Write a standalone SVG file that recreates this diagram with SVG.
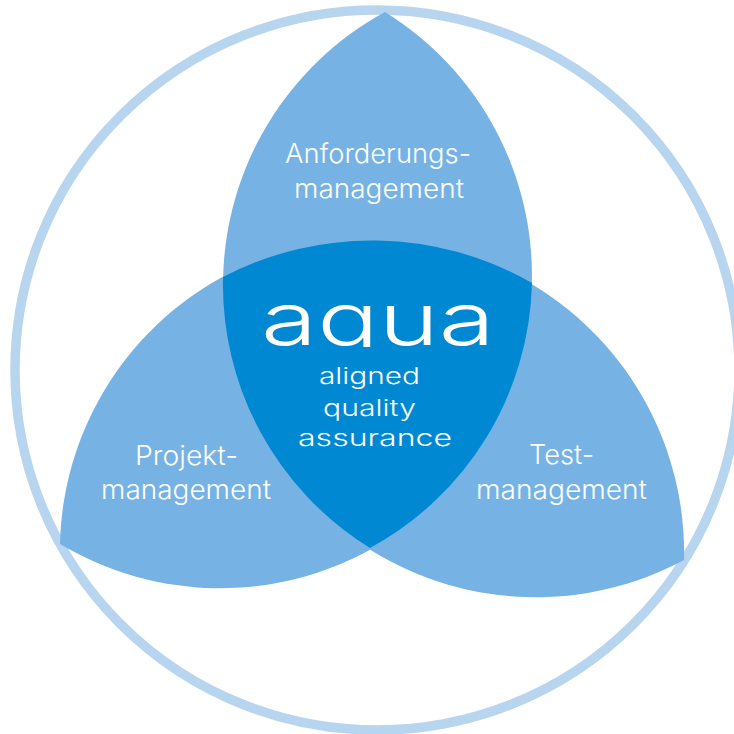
<svg xmlns="http://www.w3.org/2000/svg" width="734" height="734" viewBox="0 0 734 734">
<style>
.lens{fill:#76b3e4}
.core{fill:#0088d2}
.l{font-family:Inter,"Liberation Sans",Arial,sans-serif;font-weight:300;font-size:27px;fill:#fff}
.w{font-family:Inter,"Liberation Sans",Arial,sans-serif;font-weight:300;fill:#fff}
</style>
<defs><clipPath id="logo-clip"><rect x="255" y="295" width="245" height="52"/></clipPath></defs>
<rect width="734" height="734" fill="#fff"/>
<ellipse id="outer-ring" cx="377" cy="370" rx="362" ry="360" fill="none" stroke="#b8d5ef" stroke-width="9.5"/>
<g id="anforderungsmanagement">
<path class="lens" d="M385 12A310 310 0 0 0 370 548A310 310 0 0 0 385 12Z"/>
<text class="l" x="285" y="163" textLength="186" lengthAdjust="spacingAndGlyphs">Anforderungs-</text>
<text class="l" x="294" y="198" textLength="170" lengthAdjust="spacingAndGlyphs">management</text>
</g>
<g id="projektmanagement">
<path class="lens" d="M60 544A312 312 0 0 1 532 283A312 312 0 0 1 60 544Z"/>
<text class="l" x="135" y="465" textLength="103" lengthAdjust="spacingAndGlyphs">Projekt-</text>
<text class="l" x="101" y="499" textLength="170" lengthAdjust="spacingAndGlyphs">management</text>
</g>
<g id="testmanagement">
<path class="lens" d="M684 560A313 313 0 0 0 223 277A313 313 0 0 0 684 560Z"/>
<text class="l" x="529" y="464" textLength="65" lengthAdjust="spacingAndGlyphs">Test-</text>
<text class="l" x="476" y="499" textLength="171" lengthAdjust="spacingAndGlyphs">management</text>
</g>
<g id="aqua">
<path class="core" d="M223 277A322 322 0 0 1 532 283A310 310 0 0 1 370 548A310 310 0 0 1 223 277Z"/>
<text class="w" x="261" y="345" font-size="72" font-weight="500" textLength="234" lengthAdjust="spacingAndGlyphs" clip-path="url(#logo-clip)">aqua</text>
<text class="w" x="319" y="384" font-size="23" textLength="101" lengthAdjust="spacingAndGlyphs">aligned</text>
<text class="w" x="323" y="416" font-size="23" textLength="93" lengthAdjust="spacingAndGlyphs">quality</text>
<text class="w" x="298" y="446" font-size="23" textLength="154" lengthAdjust="spacingAndGlyphs">assurance</text>
</g>
</svg>
